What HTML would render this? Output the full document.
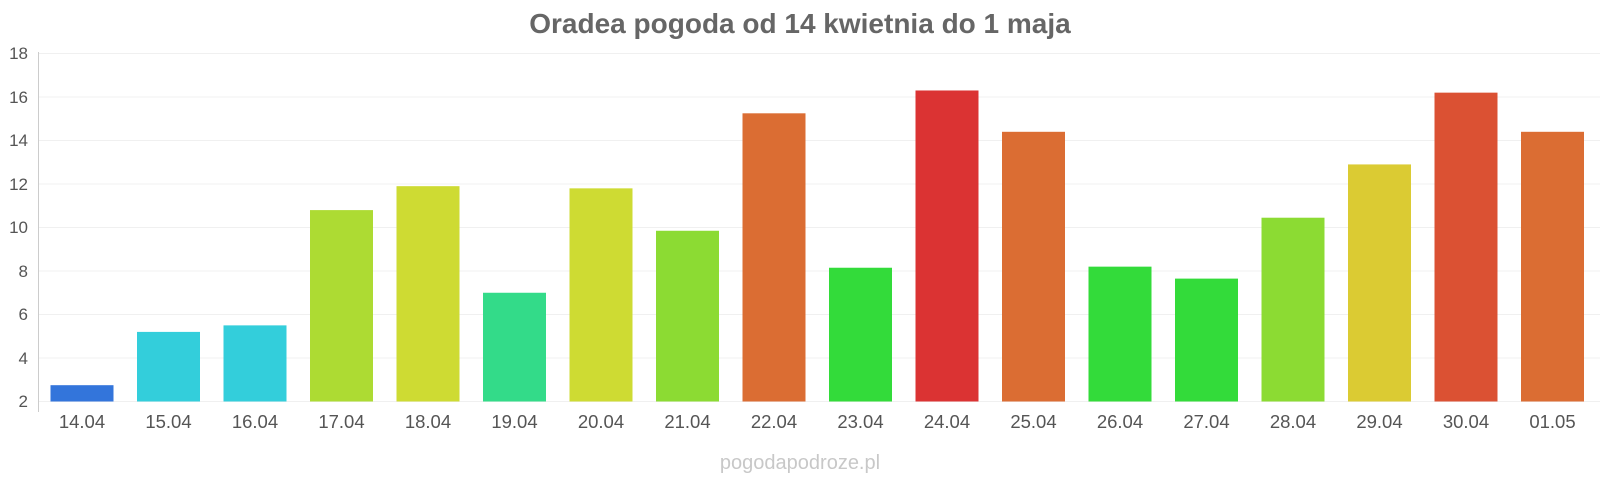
<!DOCTYPE html>
<html><head><meta charset="utf-8"><style>
body{margin:0;background:#fff;}
svg{display:block;font-family:"Liberation Sans",Arial,sans-serif;}
</style></head><body>
<svg width="1600" height="480" viewBox="0 0 1600 480">
<text x="800" y="33" text-anchor="middle" font-size="28" font-weight="bold" fill="#666">Oradea pogoda od 14 kwietnia do 1 maja</text>
<g stroke="#f0f0f0" stroke-width="1">
<line x1="38" x2="1600" y1="53.5" y2="53.5"/><line x1="38" x2="1600" y1="97" y2="97"/>
<line x1="38" x2="1600" y1="140.5" y2="140.5"/><line x1="38" x2="1600" y1="184" y2="184"/>
<line x1="38" x2="1600" y1="227.5" y2="227.5"/><line x1="38" x2="1600" y1="271" y2="271"/>
<line x1="38" x2="1600" y1="314.5" y2="314.5"/><line x1="38" x2="1600" y1="358" y2="358"/>
<line x1="38" x2="1600" y1="401.5" y2="401.5"/>
</g>
<line x1="38.5" x2="38.5" y1="52" y2="412" stroke="#ccc"/>
<g font-size="17" fill="#555" text-anchor="end">
<text x="28" y="59">18</text><text x="28" y="103">16</text><text x="28" y="146">14</text>
<text x="28" y="190">12</text><text x="28" y="233">10</text><text x="28" y="277">8</text>
<text x="28" y="320">6</text><text x="28" y="364">4</text><text x="28" y="407">2</text>
</g>
<g id="bars"></g>
<g id="labels" font-size="18.5" fill="#555" text-anchor="middle"></g>
<text x="800" y="469" text-anchor="middle" font-size="20" fill="#c8c8c8">pogodapodroze.pl</text>
<script>
var d=[["14.04",2.75,"#3375db"],["15.04",5.2,"#33cedb"],["16.04",5.5,"#33cedb"],["17.04",10.8,"#addb33"],["18.04",11.9,"#cedb33"],["19.04",7.0,"#33db89"],["20.04",11.8,"#cedb33"],["21.04",9.85,"#8cdb33"],["22.04",15.25,"#db6d33"],["23.04",8.15,"#33db3a"],["24.04",16.3,"#db3333"],["25.04",14.4,"#db6d33"],["26.04",8.2,"#33db3a"],["27.04",7.65,"#33db3a"],["28.04",10.45,"#8cdb33"],["29.04",12.9,"#dbcb33"],["30.04",16.2,"#db5133"],["01.05",14.4,"#db6d33"]];
var ns="http://www.w3.org/2000/svg",b=document.getElementById("bars"),l=document.getElementById("labels");
d.forEach(function(e,i){var cx=82+i*86.5,top=401.5-(e[1]-2)*21.75;
var r=document.createElementNS(ns,"rect");r.setAttribute("x",cx-31.5);r.setAttribute("width",63);r.setAttribute("y",top);r.setAttribute("height",401.5-top);r.setAttribute("fill",e[2]);b.appendChild(r);
var t=document.createElementNS(ns,"text");t.setAttribute("x",cx);t.setAttribute("y",428);t.textContent=e[0];l.appendChild(t);});
</script>
</svg>
</body></html>
